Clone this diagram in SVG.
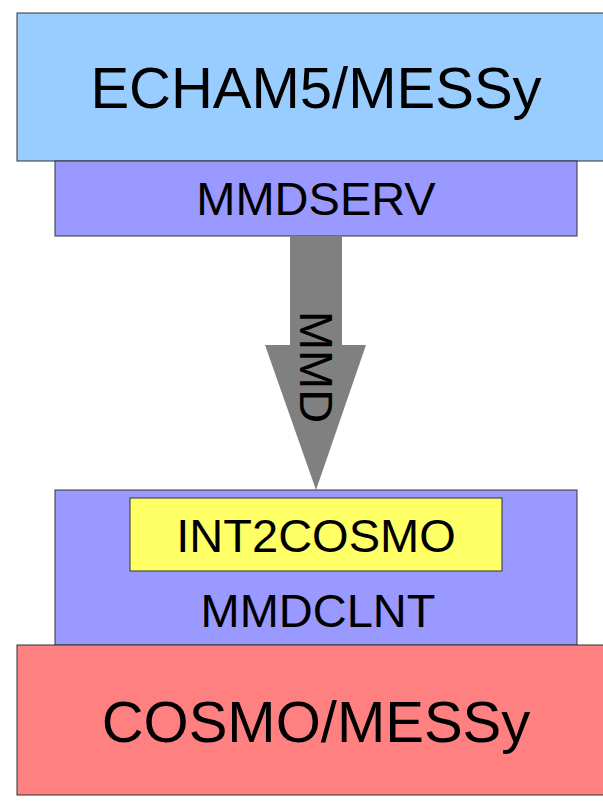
<svg xmlns="http://www.w3.org/2000/svg" width="603" height="801" viewBox="0 0 603 801">
<style>
.box{stroke:#333;stroke-width:1}
.t{font-family:"Liberation Sans",Arial,sans-serif;fill:#000;text-anchor:middle}
.big{font-size:58px}
.mid{font-size:47px}
</style>
<rect width="603" height="801" fill="#fff"/>
<g id="echam">
<rect class="box" x="17" y="13" width="600" height="148" fill="#99CCFF"/>
<text class="t big" x="316" y="108">ECHAM5/MESSy</text>
</g>
<g id="mmdserv">
<rect class="box" x="55" y="161" width="522" height="75" fill="#9999FF"/>
<text class="t mid" x="316" y="215">MMDSERV</text>
</g>
<g id="connectors">
<path d="M290 236 H342 V345 H366 L316 490 L265 345 H290 Z" fill="#808080"/>
<text class="t mid" transform="translate(300,367) rotate(90)">MMD</text>
</g>
<g id="mmdclnt">
<rect class="box" x="55" y="490" width="522" height="155" fill="#9999FF"/>
<text class="t mid" x="318" y="627">MMDCLNT</text>
</g>
<g id="int2cosmo">
<rect class="box" x="130" y="498" width="372" height="73" fill="#FFFF66"/>
<text class="t mid" x="316" y="552">INT2COSMO</text>
</g>
<g id="cosmo">
<rect class="box" x="17" y="645" width="600" height="150" fill="#FF8080"/>
<text class="t big" x="316" y="742">COSMO/MESSy</text>
</g>
</svg>
